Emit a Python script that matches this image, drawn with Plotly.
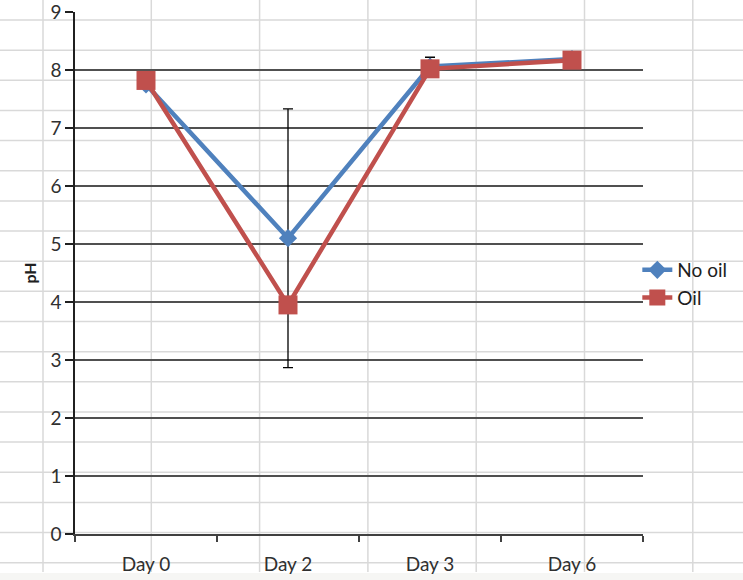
import plotly.graph_objects as go

categories = ["Day 0", "Day 2", "Day 3", "Day 6"]
no_oil = [7.75, 5.10, 8.06, 8.19]
no_oil_err = [0.0, 2.23, 0.16, 0.06]
oil = [7.82, 3.95, 8.02, 8.17]
y_ticks = list(range(0, 10))

W, H = 743, 580
L, R, T, B = 75, 100, 12, 46
PW, PH = W - L - R, H - T - B

def px_x(px):
    return (px - L) / PW

def px_y(py):
    return (H - B - py) / PH

fig = go.Figure()

fig.add_trace(go.Scatter(
    x=categories, y=no_oil, name="No oil", mode="lines+markers",
    line=dict(color="#4F81BD", width=4.5),
    marker=dict(symbol="diamond", size=14, color="#4F81BD"),
    error_y=dict(type="data", array=no_oil_err, visible=True,
                 color="#000000", thickness=1.3, width=5),
))
fig.add_trace(go.Scatter(
    x=categories, y=oil, name="Oil", mode="lines+markers",
    line=dict(color="#C0504D", width=4.5),
    marker=dict(symbol="square", size=19, color="#C0504D"),
))

shapes = []
# spreadsheet background grid
col_px = [43 + 108.3 * k for k in range(7)]
row_px = [20 + 30.15 * k for k in range(19)]
for cx in col_px:
    shapes.append(dict(type="line", xref="paper", yref="paper",
                       x0=px_x(cx), x1=px_x(cx), y0=px_y(0), y1=px_y(572),
                       line=dict(color="#d9d9d9", width=1.5), layer="below"))
for ry in row_px:
    shapes.append(dict(type="line", xref="paper", yref="paper",
                       x0=px_x(0), x1=px_x(W), y0=px_y(ry), y1=px_y(ry),
                       line=dict(color="#d9d9d9", width=1.5), layer="below"))
shapes.append(dict(type="rect", xref="paper", yref="paper",
                   x0=px_x(0), x1=px_x(W), y0=px_y(573), y1=px_y(H),
                   fillcolor="#f6f6f4", line=dict(width=0), layer="below"))

fig.update_layout(
    width=W, height=H,
    margin=dict(l=L, r=R, t=T, b=B, autoexpand=False),
    paper_bgcolor="white", plot_bgcolor="rgba(0,0,0,0)",
    font=dict(family="Lato, sans-serif", color="#404040", size=15),
    shapes=shapes,
    showlegend=True,
    legend=dict(x=0.99, y=0.479, xanchor="left", yanchor="middle",
                bgcolor="rgba(0,0,0,0)", font=dict(size=19, color="#202020"),
                itemwidth=30, tracegroupgap=0),
    xaxis=dict(
        type="category", range=[-0.5, 3.5], automargin=False,
        showline=True, linecolor="#404040", linewidth=1.5,
        ticks="outside", tickson="boundaries", ticklen=6,
        tickcolor="#404040", tickwidth=1.5,
        showgrid=False, zeroline=False,
        tickfont=dict(size=19, color="#303030"),
        ticklabelstandoff=12,
    ),
    yaxis=dict(
        range=[0, 9], tickvals=y_ticks, automargin=False,
        showline=True, linecolor="#202020", linewidth=1.5,
        ticks="outside", ticklen=8, tickcolor="#202020", tickwidth=1.5,
        showgrid=True, gridcolor="#505050", gridwidth=1.5,
        zeroline=False, ticklabeloverflow="allow",
        tickfont=dict(size=19, color="#303030"),
        title=dict(text="<b>pH</b>", font=dict(size=16, color="#202020"),
                   standoff=10),
    ),
)

fig.write_html("out.html", config={"displayModeBar": False},
               post_script="document.body.style.margin='0';document.body.style.overflow='hidden';")
